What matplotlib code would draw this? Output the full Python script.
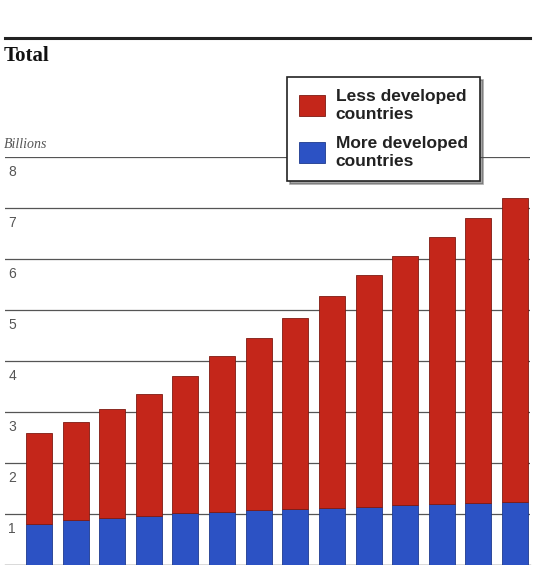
#!/usr/bin/env python3
import matplotlib.pyplot as plt
from matplotlib.patches import Patch
from matplotlib.lines import Line2D
import numpy as np

years = [1950, 1955, 1960, 1965, 1970, 1975, 1980,
         1985, 1990, 1995, 2000, 2005, 2010, 2015]
# population in billions
more_developed = [0.80, 0.88, 0.92, 0.96, 1.01, 1.04, 1.07,
                  1.09, 1.12, 1.14, 1.17, 1.19, 1.21, 1.23]
total = [2.59, 2.80, 3.06, 3.35, 3.70, 4.10, 4.45,
         4.84, 5.27, 5.69, 6.06, 6.43, 6.80, 7.20]
less_developed = [t - m for t, m in zip(total, more_developed)]
y_ticks = [1, 2, 3, 4, 5, 6, 7, 8]

red = '#c4261a'
blue = '#2c52c4'

fig = plt.figure(figsize=(5.33, 5.65), dpi=100)
ax = fig.add_axes([5 / 533, 0, 525 / 533, 408 / 565])

x = np.arange(len(years))
ax.bar(x, more_developed, width=0.71, color=blue,
       edgecolor='#1d3a8e', linewidth=0.6, zorder=3)
ax.bar(x, less_developed, bottom=more_developed, width=0.71, color=red,
       edgecolor='#7e1a12', linewidth=0.6, zorder=3)

ax.set_xlim(-0.93, 13.41)
ax.set_ylim(0, 8)
ax.set_xticks([])
ax.set_yticks([])
for s in ['top', 'left', 'right']:
    ax.spines[s].set_visible(False)
ax.spines['bottom'].set_color('#444444')
ax.spines['bottom'].set_linewidth(1.0)

for v in y_ticks:
    ax.axhline(v, color='#555555', linewidth=0.9, zorder=1)
    ax.text(0.006, v - 0.3, str(v), transform=ax.get_yaxis_transform(),
            ha='left', va='center', fontsize=10, color='#555555',
            family='Liberation Sans')
ax.patch.set_alpha(0)

# header rule, title and unit label
fig.add_artist(Line2D([5 / 533, 530 / 533], [1 - 37.5 / 565] * 2,
                      color='#222222', linewidth=2.2))
fig.text(4 / 533, 1 - 56 / 565, 'Total', fontsize=15, fontweight='bold',
         family='Liberation Serif', va='center', ha='left', color='#111111')
fig.text(4 / 533, 1 - 144 / 565, 'Billions', fontsize=10, style='italic',
         family='Liberation Serif', va='center', ha='left', color='#555555')

handles = [Patch(facecolor=red, edgecolor='#7e1a12', linewidth=0.6),
           Patch(facecolor=blue, edgecolor='#1d3a8e', linewidth=0.6)]
leg = fig.legend(handles, ['Less developed\ncountries', 'More developed\ncountries'],
                 loc='upper left', bbox_to_anchor=(287 / 533, 1 - 77 / 565),
                 borderaxespad=0, frameon=True, fancybox=False, shadow=True,
                 framealpha=1, edgecolor='#222222', borderpad=0.7,
                 handlelength=1.5, handleheight=1.5, handletextpad=0.6,
                 labelspacing=0.85,
                 prop={'family': 'Liberation Sans', 'weight': 'bold', 'size': 12.5})
leg.get_frame().set_linewidth(1.2)
for t in leg.get_texts():
    t.set_color('#222222')
    t.set_linespacing(1.2)

plt.savefig('out.png', dpi=100)
